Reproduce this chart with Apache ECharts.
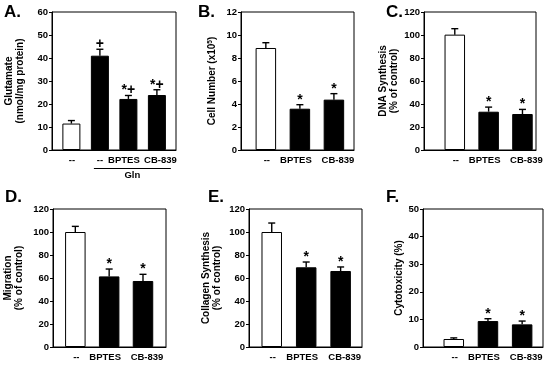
<!DOCTYPE html>
<html>
<head>
<meta charset="utf-8">
<script src="https://cdn.jsdelivr.net/npm/echarts@6/dist/echarts.min.js"></script>
<style>
html,body{margin:0;padding:0;background:#fff;}
#chart{width:550px;height:367px;}
</style>
</head>
<body>
<div id="chart"></div>
<script>
// ---- data ----
const catsA = ['--', '--', 'BPTES', 'CB-839'];
const cats = ['--', 'BPTES', 'CB-839'];

const glutamate = [11.5, 41.0, 22.2, 23.9];
const glutamateErr = [1.3, 2.8, 1.5, 2.3];
const glutamateSig = ['', '+', '*+', '*+'];

const cellNumber = [8.87, 3.59, 4.38];
const cellNumberErr = [0.46, 0.35, 0.52];

const dnaSynthesis = [100.3, 33.3, 31.3];
const dnaSynthesisErr = [5.2, 4.0, 4.0];

const migration = [100, 61.4, 57.4];
const migrationErr = [4.9, 6.4, 5.8];

const collagen = [100, 69.3, 66.1];
const collagenErr = [7.8, 4.6, 3.5];

const cytotoxicity = [2.9, 9.4, 8.2];
const cytotoxicityErr = [0.4, 0.85, 1.2];

const sig3 = ['', '*', '*'];

const yTicksA = [0, 60, 10];
const yTicksB = [0, 12, 2];
const yTicksC = [0, 120, 20];
const yTicksD = [0, 120, 20];
const yTicksE = [0, 120, 20];
const yTicksF = [0, 50, 10];

// ---- layout ----
const FONT = 'Liberation Sans';
const TICK_FS = 9.5;
const NAME_FS = 10;
// horizontal pixel nudges of the category labels relative to bar centres
const labelShiftA = [0.5, 0, -4.5, 3.5];
const labelShift3 = [1, -4, 4];

const panels = [
  {letter: 'A.', lx: 4, ly: 4, grid: {left: 52, top: 12, width: 124, height: 138}, xr: [-0.68, 3.67], bw: 18,
   cats: catsA, shift: labelShiftA, vals: glutamate, errs: glutamateErr, sig: glutamateSig, yt: yTicksA,
   name: 'Glutamate\n(nmol/mg protein)', gap: 26},
  {letter: 'B.', lx: 198, ly: 4, grid: {left: 241, top: 12, width: 113, height: 138}, xr: [-0.73, 2.59], bw: 20.5,
   cats: cats, shift: labelShift3, vals: cellNumber, errs: cellNumberErr, sig: sig3, yt: yTicksB,
   name: '{a|Cell Number (x10}{s|5}{a|)}', gap: 23},
  {letter: 'C.', lx: 386, ly: 4, grid: {left: 424, top: 12, width: 112, height: 138}, xr: [-0.91, 2.4], bw: 20.5,
   cats: cats, shift: labelShift3, vals: dnaSynthesis, errs: dnaSynthesisErr, sig: sig3, yt: yTicksC,
   name: 'DNA Synthesis\n(% of control)', gap: 22},
  {letter: 'D.', lx: 5, ly: 189, grid: {left: 53, top: 209, width: 113, height: 138}, xr: [-0.66, 2.68], bw: 20.5,
   cats: cats, shift: labelShift3, vals: migration, errs: migrationErr, sig: sig3, yt: yTicksD,
   name: 'Migration\n(% of control)', gap: 28},
  {letter: 'E.', lx: 208, ly: 189, grid: {left: 249, top: 209, width: 113, height: 138}, xr: [-0.66, 2.62], bw: 20.5,
   cats: cats, shift: labelShift3, vals: collagen, errs: collagenErr, sig: sig3, yt: yTicksE,
   name: 'Collagen Synthesis\n(% of control)', gap: 26},
  {letter: 'F.', lx: 386, ly: 189, grid: {left: 423, top: 209, width: 120, height: 138}, xr: [-0.9, 2.61], bw: 20.5,
   cats: cats, shift: labelShift3, vals: cytotoxicity, errs: cytotoxicityErr, sig: sig3, yt: yTicksF,
   name: 'Cytotoxicity (%)', gap: 16}
];

const chart = echarts.init(document.getElementById('chart'), null, {renderer: 'canvas'});

const option = {
  animation: false,
  backgroundColor: '#fff',
  title: [], grid: [], xAxis: [], yAxis: [], series: []
};

panels.forEach((p, i) => {
  option.title.push({
    text: p.letter, left: p.lx, top: p.ly, padding: 0,
    textStyle: {fontFamily: FONT, fontWeight: 'bold', fontSize: 17, color: '#000'}
  });
  option.grid.push(Object.assign({show: true, borderColor: '#000', borderWidth: 1, backgroundColor: 'transparent'}, p.grid));
  const catList = p.cats;
  const pxPerUnit = p.grid.width / (p.xr[1] - p.xr[0]);
  option.xAxis.push({
    type: 'value', gridIndex: i, min: p.xr[0], max: p.xr[1],
    axisLine: {show: true, onZero: false, lineStyle: {color: '#000', width: 1}},
    axisTick: {show: false},
    splitLine: {show: false},
    axisLabel: {
      customValues: catList.map((c, k) => k + p.shift[k] / pxPerUnit),
      formatter: v => catList[Math.round(v)],
      hideOverlap: false, showMinLabel: true, showMaxLabel: true,
      margin: 5.5, color: '#000', fontFamily: FONT, fontWeight: 'bold', fontSize: TICK_FS
    }
  });
  option.yAxis.push({
    type: 'value', gridIndex: i, min: p.yt[0], max: p.yt[1], interval: p.yt[2],
    name: p.name, nameLocation: 'middle', nameGap: p.gap, nameRotate: 90,
    nameTextStyle: {
      fontFamily: FONT, fontWeight: 'bold', fontSize: NAME_FS, color: '#000', lineHeight: 11.5,
      rich: {
        a: {fontFamily: FONT, fontWeight: 'bold', fontSize: NAME_FS, color: '#000', lineHeight: 11.5},
        s: {fontFamily: FONT, fontWeight: 'bold', fontSize: 6.5, color: '#000', lineHeight: 11.5, verticalAlign: 'top', padding: [0, 0, 6, 0]}
      }
    },
    axisLine: {show: true, onZero: false, lineStyle: {color: '#000', width: 1}},
    axisTick: {show: true, inside: false, length: 3, lineStyle: {color: '#000'}},
    splitLine: {show: false},
    axisLabel: {margin: 4, color: '#000', fontFamily: FONT, fontWeight: 'bold', fontSize: TICK_FS}
  });
  option.series.push({
    type: 'bar', xAxisIndex: i, yAxisIndex: i, barWidth: p.bw,
    data: p.vals.map((v, k) => ({
      value: [k, v],
      itemStyle: {color: k === 0 ? '#fff' : '#000', borderColor: '#000', borderWidth: 1}
    }))
  });
  option.series.push({
    type: 'custom', xAxisIndex: i, yAxisIndex: i, clip: false, z: 5,
    data: p.vals.map((v, k) => [k, v, p.errs[k]]),
    renderItem: (params, api) => {
      const x = api.value(0), v = api.value(1), e = api.value(2);
      const base = api.coord([x, v]);
      const top = api.coord([x, v + e]);
      const s = p.sig[params.dataIndex];
      const half = 3.5;
      const lw = 1.4;
      const children = [
        {type: 'line', shape: {x1: top[0], y1: base[1], x2: top[0], y2: top[1]}, style: {stroke: '#000', lineWidth: lw}},
        {type: 'line', shape: {x1: top[0] - half, y1: top[1], x2: top[0] + half, y2: top[1]}, style: {stroke: '#000', lineWidth: lw}}
      ];
      if (s) {
        children.push({type: 'text', style: {text: s, x: top[0], y: top[1] + 2, align: 'center', verticalAlign: 'bottom',
          font: 'bold 14px "Liberation Sans"', fill: '#000'}});
      }
      return {type: 'group', children: children};
    }
  });
});

chart.setOption(option);

// Gln bracket under panel A treatments
const glnFrom = chart.convertToPixel({gridIndex: 0}, [0.79, 0]);
const glnTo = chart.convertToPixel({gridIndex: 0}, [3.49, 0]);
chart.setOption({
  graphic: [
    {type: 'line', shape: {x1: glnFrom[0], y1: glnFrom[1] + 18.5, x2: glnTo[0], y2: glnTo[1] + 18.5}, style: {stroke: '#000', lineWidth: 1}},
    {type: 'text', style: {text: 'Gln', x: (glnFrom[0] + glnTo[0]) / 2, y: glnFrom[1] + 25.5, align: 'center', verticalAlign: 'middle',
      font: 'bold ' + TICK_FS + 'px "Liberation Sans"', fill: '#000'}}
  ]
});
</script>
</body>
</html>
